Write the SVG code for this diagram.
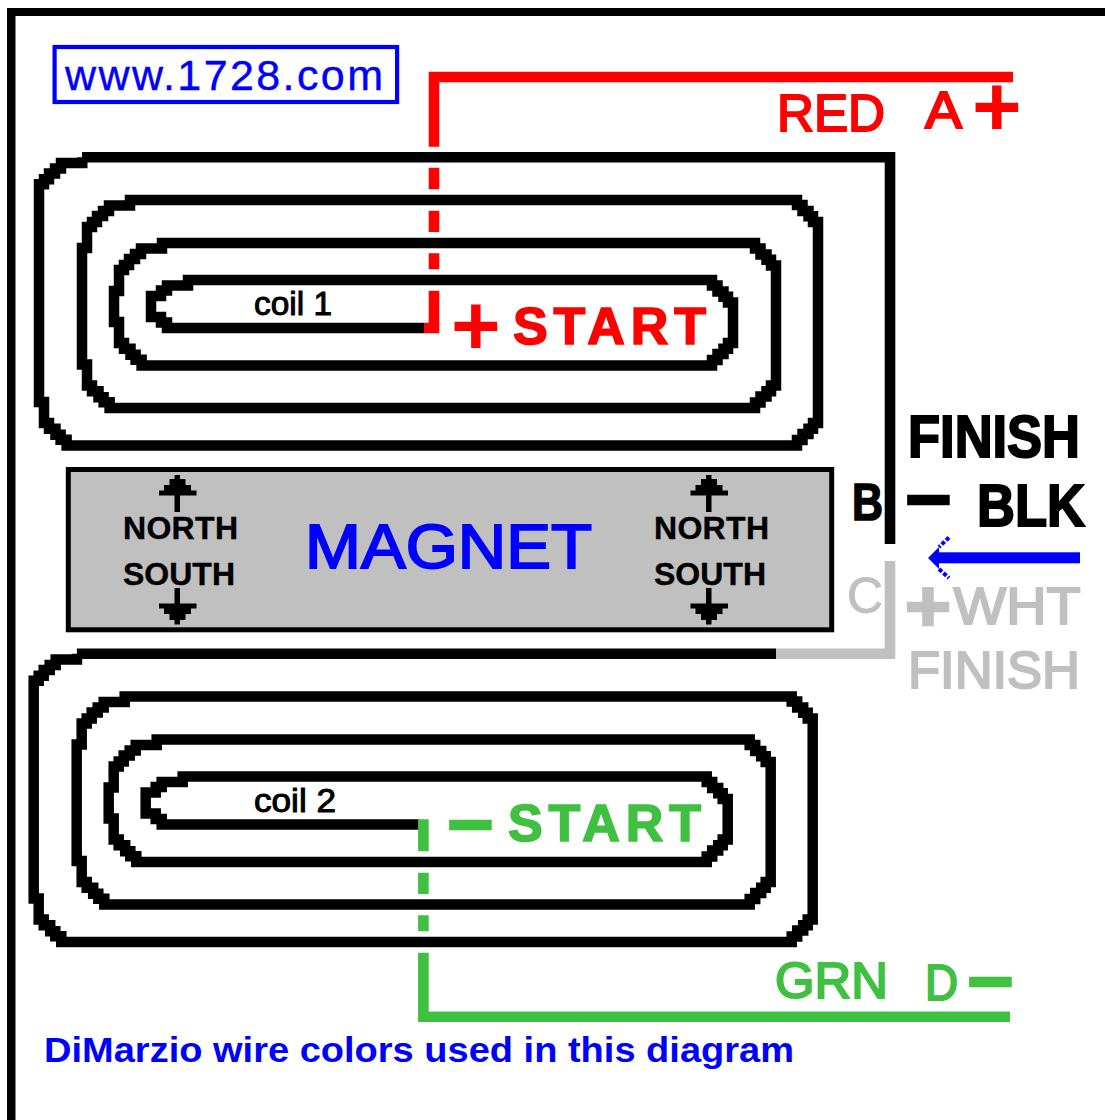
<svg xmlns="http://www.w3.org/2000/svg" width="1105" height="1120" viewBox="0 0 1105 1120">
<style>
text{font-family:"Liberation Sans",Arial,sans-serif}
.b{font-weight:700}
.s0{stroke-width:.4}
.s1{stroke-width:1}
.s2{stroke-width:2}
.s3{stroke-width:1.6}
.dash{stroke-width:4.6}
.pl{stroke-width:2.6}
.coil{fill:none;stroke:#000;stroke-width:10.5;stroke-linejoin:miter;stroke-miterlimit:4}
.wire{fill:none;stroke-width:10.6;stroke-linejoin:miter}
.red{fill:#f00;stroke:#f00}
.grn{fill:#40c040;stroke:#40c040}
.blu{fill:#00f;stroke:#00f}
.gry{fill:#c0c0c0;stroke:#c0c0c0}
.blk{fill:#000;stroke:#000}
.nos{stroke-width:0}
</style>
<defs>
<path id="spiral" class="coil" d="M82.25 157.25V163H61V168.5H55V173.5H49V179.25H44V184.25H39V402H44V423H49V428.7H55.5V434.7H60.6V439.7H66.6V445.5H797V440H802.5V434H808.5V428.8H813V423H818V222H813V216.2H808.5V211H802.5V205H797V200H130V205.5H109V211H103V216H97V222H92V227H87V248H82V364.5H87V385.5H92V391.2H98.5V397.2H103.6V402.2H109.6V408H755V402.5H760.5V396.5H766.5V391.3H771V385.5H776V265.5H771V259.7H766.5V254.5H760.5V248.5H755V243H162V248.5H141V254H135V259H129V265H124V270H119V291H114V322H119V343H124V348.7H130.5V354.7H135.6V359.7H141.6V365.5H712V360H717.5V354H723.5V348.8H728V343H733V302.5H728V296.7H723.5V291.5H717.5V285.5H712V280H188V285.5H167V290.5H161V296H151V317H161V322.5H167V328H424"/>
<g id="arrow-up"><path d="M174.5 475H180V479H185.5V485H191V490.5H196.5V495.5H180V512H174.5V495.5H159V490.5H164V485H169.5V479H174.5Z"/></g>
<g id="arrow-down"><path d="M174.5 588H180V603.5H196.5V608.5H191V614H185.5V620H180V624.5H174.5V620H169.5V614H164V608.5H159V603.5H174.5Z"/></g>
</defs>
<rect width="1105" height="1120" fill="#fff"/>
<g id="frame"><rect x="7" y="8" width="1098" height="8"/><rect x="7" y="8" width="8.5" height="1112"/></g>
<g id="site-label">
<rect x="54.6" y="47" width="342.5" height="55" fill="none" stroke="#00f" stroke-width="4.2"/>
<text x="65" y="90" font-size="43" textLength="318" lengthAdjust="spacing" class="blu s0">www.1728.com</text>
</g>
<g id="coil-1">
<use href="#spiral"/>
<text x="254" y="315" font-size="33" textLength="78" lengthAdjust="spacingAndGlyphs" class="blk s1">coil 1</text>
<text x="451" y="355" font-size="85" class="b red nos">+</text>
<text x="513" y="344" font-size="52" textLength="193" class="b red s3">START</text>
</g>
<g id="coil-2">
<use href="#spiral" transform="translate(-5.3 496.5)"/>
<text x="254" y="812" font-size="33" textLength="82" lengthAdjust="spacingAndGlyphs" class="blk s1">coil 2</text>
<text x="450" y="838" font-size="50" textLength="41" lengthAdjust="spacingAndGlyphs" class="b grn dash">-</text>
<text x="508" y="840.5" font-size="52" textLength="193" class="b grn s3">START</text>
</g>
<g id="magnet">
<rect x="68.3" y="469.5" width="763.4" height="160.3" fill="#c0c0c0" stroke="#000" stroke-width="5"/>
<text x="305" y="568.3" font-size="63" textLength="287" lengthAdjust="spacingAndGlyphs" class="blu s2">MAGNET</text>
<use href="#arrow-up"/>
<use href="#arrow-down"/>
<use href="#arrow-up" x="531.5"/>
<use href="#arrow-down" x="531.5"/>
<text x="123" y="539.3" font-size="32" textLength="115" lengthAdjust="spacing" class="blk s0 b">NORTH</text>
<text x="123" y="584.5" font-size="32" textLength="112" lengthAdjust="spacing" class="blk s0 b">SOUTH</text>
<text x="654" y="539.3" font-size="32" textLength="115" lengthAdjust="spacing" class="blk s0 b">NORTH</text>
<text x="654" y="584.5" font-size="32" textLength="112" lengthAdjust="spacing" class="blk s0 b">SOUTH</text>
</g>
<g id="connectors">
<path id="wire-black" class="wire" stroke="#000" d="M890 544V157.25H82"/>
<path id="wire-white" class="wire" stroke="#c0c0c0" d="M890 561V653.7H776"/>
<path id="wire-black-2" class="wire" stroke="#000" d="M776 653.7H76.9"/>
<path id="wire-red" class="wire" stroke="#f00" d="M434 146.7V77H1013"/>
<path class="wire" stroke="#f00" d="M434 167.7V189.3M434 210.7V232M434 253.3V269.3M434 290.7V333.3M424 328H434"/>
<path id="wire-green" class="wire" stroke="#40c040" d="M423.4 952.7V1016.7H1010"/>
<path class="wire" stroke="#40c040" d="M423.4 819.3V851.3M423.4 872.7V894M423.4 915.3V931.3"/>
<g id="arrow-blue">
<rect x="936" y="552.3" width="144" height="11" fill="#00f"/>
<path d="M928 558L939 547V569Z" fill="#00f"/>
<path d="M949 537.5L939 547M939 569L949 578" fill="none" stroke="#00f" stroke-width="4" stroke-dasharray="4 2"/>
</g>
</g>
<g id="labels">
<text x="777" y="130.7" font-size="52" textLength="108" lengthAdjust="spacingAndGlyphs" class="red s2">RED</text>
<text x="925" y="128" font-size="51" textLength="37" lengthAdjust="spacingAndGlyphs" class="red s2">A</text>
<text x="972" y="136" font-size="85" class="b red nos">+</text>
<text x="908" y="456.7" font-size="60" textLength="172" lengthAdjust="spacingAndGlyphs" class="b blk s2">FINISH</text>
<text x="852" y="520" font-size="52" textLength="31" lengthAdjust="spacingAndGlyphs" class="b blk s3">B</text>
<text x="908" y="513" font-size="50" textLength="41" lengthAdjust="spacingAndGlyphs" class="b blk dash">-</text>
<text x="977" y="525.7" font-size="60" textLength="108" lengthAdjust="spacingAndGlyphs" class="b blk s2">BLK</text>
<text x="847" y="613" font-size="50" textLength="36" lengthAdjust="spacingAndGlyphs" class="gry s1">C</text>
<text x="905" y="631" font-size="72" textLength="46" lengthAdjust="spacingAndGlyphs" class="b gry pl">+</text>
<text x="953.5" y="624.3" font-size="52" textLength="127" lengthAdjust="spacingAndGlyphs" class="gry s2">WHT</text>
<text x="908" y="688.3" font-size="52" textLength="172" lengthAdjust="spacingAndGlyphs" class="gry s2">FINISH</text>
<text x="775" y="998.3" font-size="50" textLength="113" lengthAdjust="spacingAndGlyphs" class="grn s2">GRN</text>
<text x="925" y="1000" font-size="50" textLength="33" lengthAdjust="spacingAndGlyphs" class="grn s2">D</text>
<text x="970" y="995" font-size="50" textLength="41" lengthAdjust="spacingAndGlyphs" class="b grn dash">-</text>
<text x="44" y="1061.7" font-size="35" textLength="750" lengthAdjust="spacingAndGlyphs" class="b blu nos">DiMarzio wire colors used in this diagram</text>
</g>
</svg>
